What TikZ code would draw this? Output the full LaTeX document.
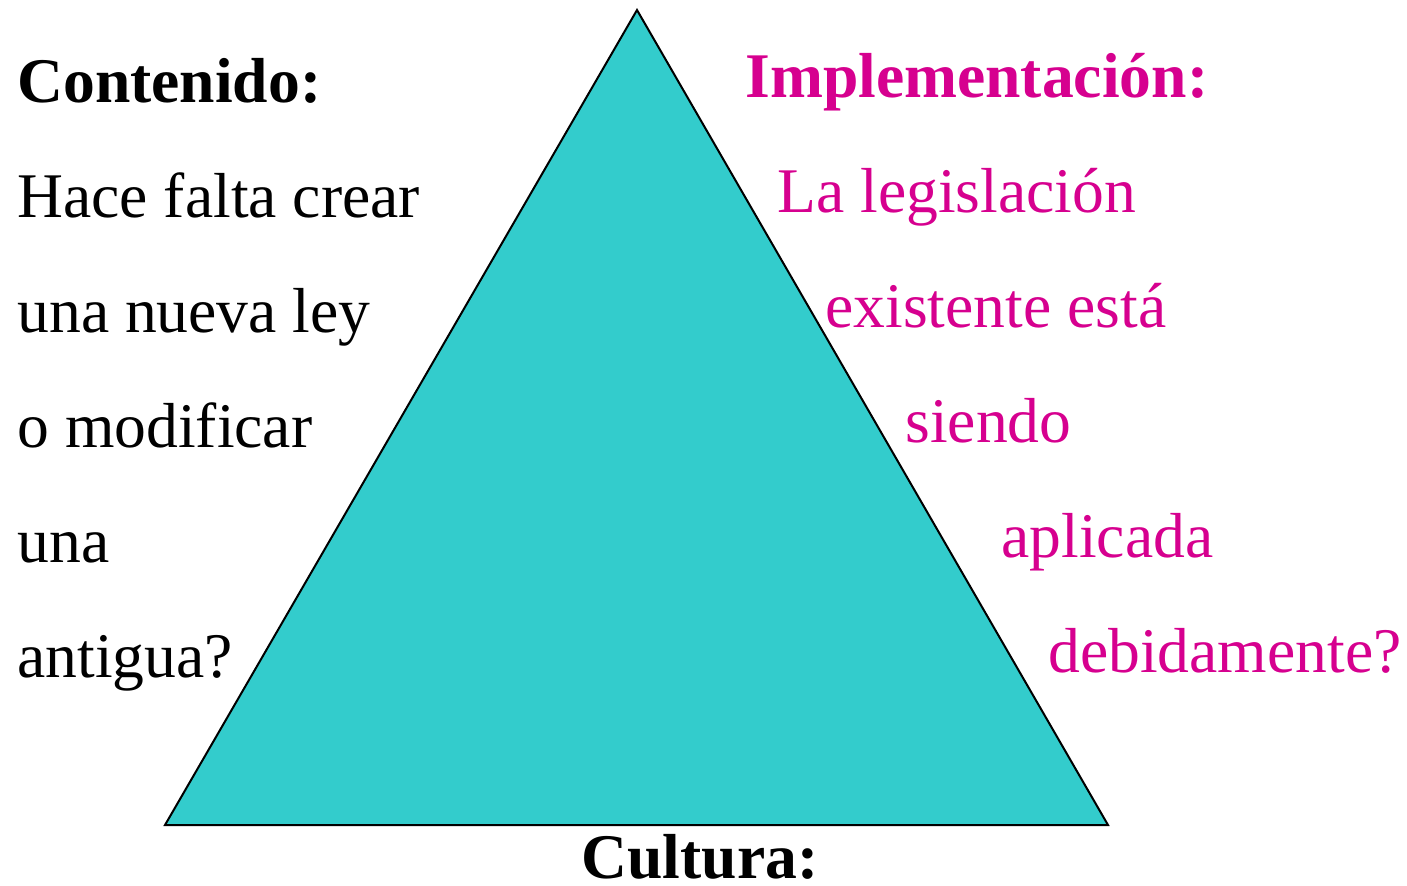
\documentclass[tikz,border=0pt]{standalone}
\usepackage{fontspec}
\setmainfont{Liberation Serif}
\definecolor{teal1}{RGB}{51,204,204}
\definecolor{mag}{RGB}{214,0,143}
\begin{document}
\begin{tikzpicture}[x=0.5pt,y=-0.5pt,
  txt/.style={anchor=base west,inner sep=0pt,font=\fontsize{31.8}{36}\selectfont},
  head/.style={txt,font=\fontsize{31.8}{36}\selectfont\bfseries},
  rtxt/.style={txt,text=mag},
  rhead/.style={head,text=mag}]
\useasboundingbox (0,0) rectangle (1407,885);
\coordinate (apex) at (637,10);
\coordinate (bl) at (165,825);
\coordinate (br) at (1108,825);
\filldraw[fill=teal1,draw=black,line width=1pt,line join=miter] (apex) -- (bl) -- (br) -- cycle;
\node[head] (cont) at (17,102) {Contenido:};
\node[txt] (l1) at (17,217) {Hace falta crear};
\node[txt] (l2) at (17,332) {una nueva ley};
\node[txt] (l3) at (17,447) {o modificar};
\node[txt] (l4) at (17,562) {una};
\node[txt] (l5) at (17,677) {antigua?};
\node[rhead] (impl) at (745,97) {Implementación:};
\node[rtxt] (r1) at (777,212) {La legislación};
\node[rtxt] (r2) at (825,327) {existente está};
\node[rtxt] (r3) at (905,442) {siendo};
\node[rtxt] (r4) at (1001,557) {aplicada};
\node[rtxt] (r5) at (1048,672) {debidamente?};
\node[head,anchor=base] (cult) at (700,878) {Cultura:};
\end{tikzpicture}
\end{document}
